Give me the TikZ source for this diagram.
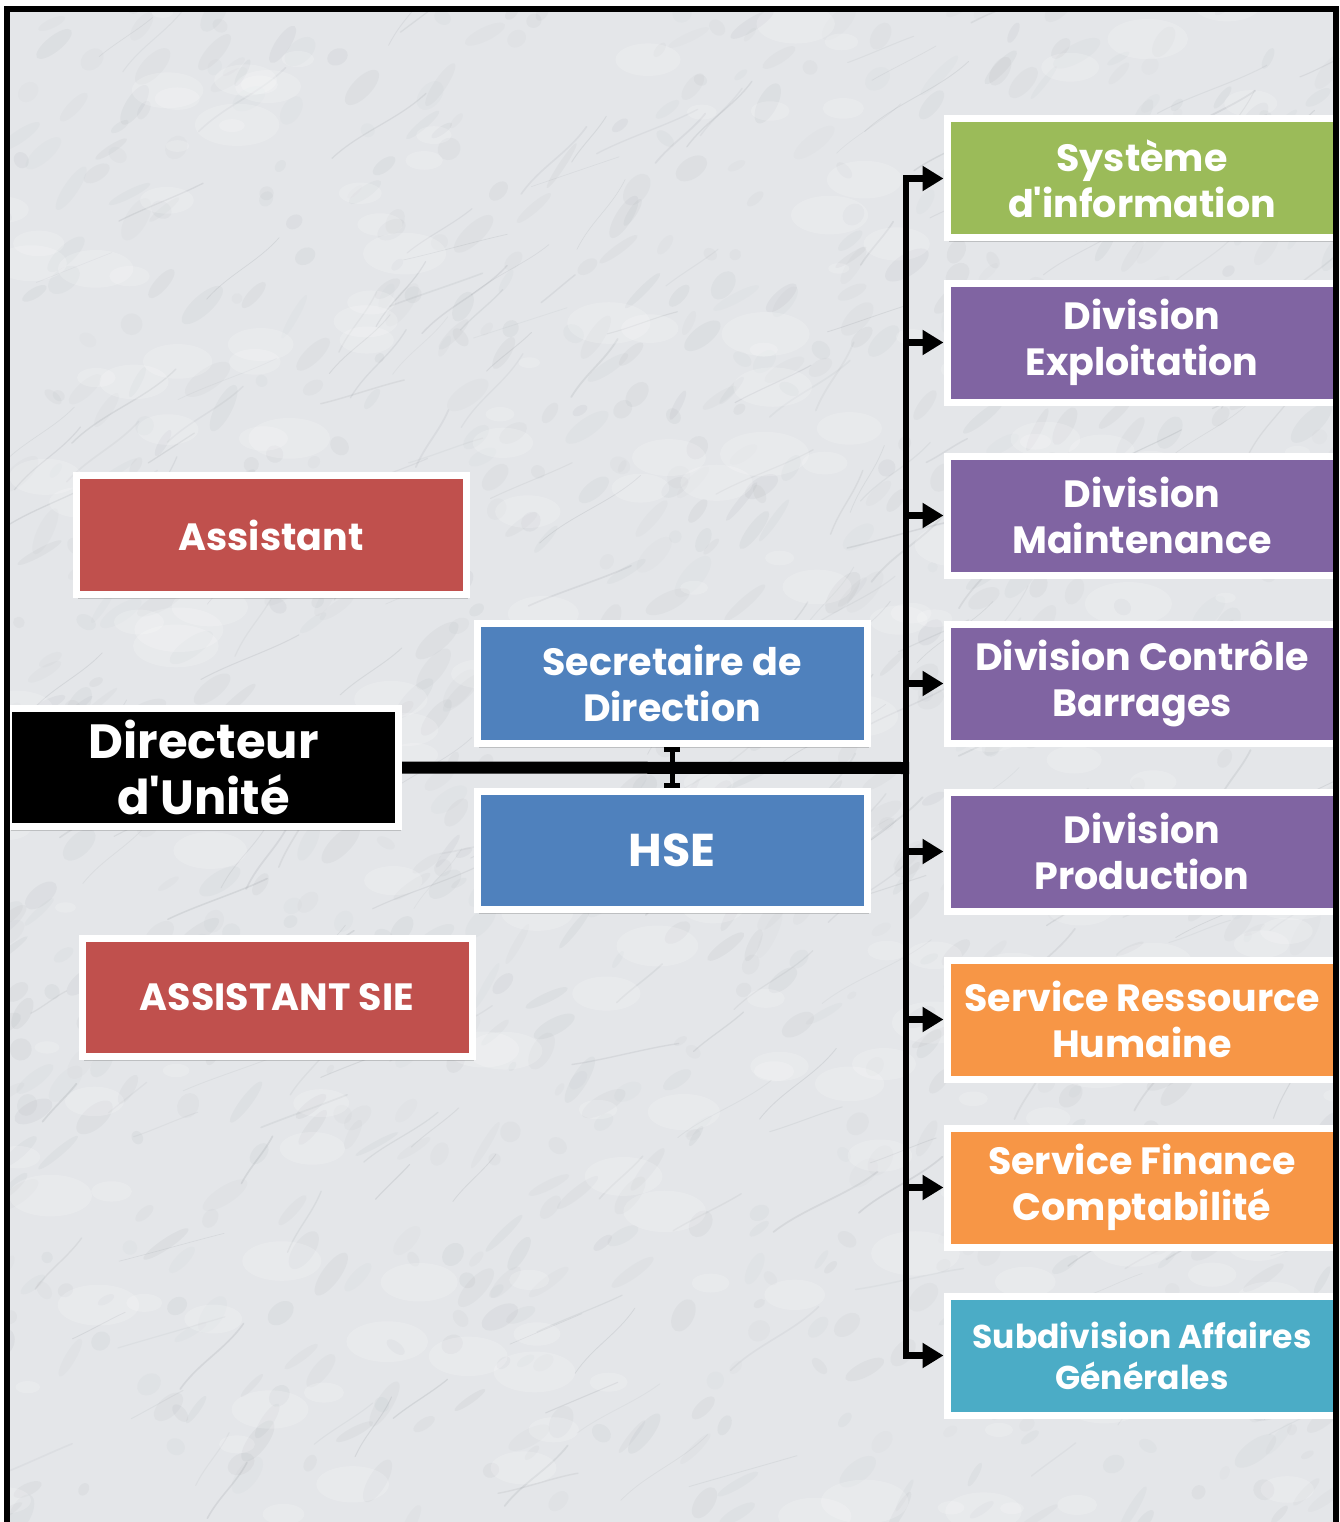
\documentclass[tikz,border=0pt]{standalone}
\usepackage{fontspec}
\newfontfamily\pop{Poppins}
\usetikzlibrary{arrows.meta,shadows}
\definecolor{marble}{HTML}{E4E6E9}
\definecolor{vein}{HTML}{8E9398}
\definecolor{cgreen}{HTML}{9BBB59}
\definecolor{cpurple}{HTML}{8064A2}
\definecolor{corange}{HTML}{F79646}
\definecolor{cteal}{HTML}{4BACC6}
\definecolor{cred}{HTML}{C0504D}
\definecolor{cblue}{HTML}{4F81BD}
\begin{document}
\begin{tikzpicture}[x=1pt,y=-1pt,
  box/.style={draw=white, line width=7pt, minimum width=390pt, minimum height=119pt,
    inner sep=0pt, align=center, text=white, font=\pop\bfseries\fontsize{38}{46}\selectfont,
    drop shadow={shadow xshift=2pt, shadow yshift=-4pt, opacity=0.25, fill=black!70}},
  conn/.style={line width=6.5pt, line join=miter, -{Triangle[length=21pt,width=24pt]}},
]
\useasboundingbox (0,0) rectangle (1339,1522);
% background
\fill[marble] (7,9) rectangle (1339,1522);
\begin{scope}
\clip (7,9) rectangle (1339,1522);
\pgfmathsetseed{11}
\foreach \i in {1,...,900}{
  \pgfmathsetmacro{\xa}{rnd*1340}
  \pgfmathsetmacro{\ya}{rnd*1522}
  \pgfmathsetmacro{\ra}{5+rnd*22}
  \pgfmathsetmacro{\rb}{3+rnd*8}
  \pgfmathsetmacro{\op}{0.03+rnd*0.06}
  \fill[vein, opacity=\op, rotate around={25+rnd*40:(\xa,\ya)}] (\xa,\ya) ellipse [x radius=\ra, y radius=\rb];
}
\foreach \i in {1,...,260}{
  \pgfmathsetmacro{\xa}{rnd*1340}
  \pgfmathsetmacro{\ya}{rnd*1522}
  \pgfmathsetmacro{\dx}{30+rnd*80}
  \pgfmathsetmacro{\dy}{-20-rnd*55}
  \pgfmathsetmacro{\op}{0.08+rnd*0.12}
  \draw[vein, opacity=\op, line width=0.6pt+rnd*1.2pt, line cap=round]
    (\xa,\ya) .. controls (\xa+\dx*0.3,\ya+\dy*0.5+6) and (\xa+\dx*0.7,\ya+\dy*0.5-6) .. (\xa+\dx,\ya+\dy);
}
\foreach \i in {1,...,220}{
  \pgfmathsetmacro{\xa}{rnd*1340}
  \pgfmathsetmacro{\ya}{rnd*1522}
  \pgfmathsetmacro{\ra}{10+rnd*35}
  \fill[white, opacity=0.18] (\xa,\ya) ellipse [x radius=\ra, y radius=\ra*0.5];
}
\end{scope}
% left column
\node[box, fill=cred] (asst) at (271,535) {Assistant};
\node[box, fill=cred, minimum height=118pt] (asie) at (277,997.5) {ASSISTANT SIE};
\node[box, fill=black, font=\pop\bfseries\fontsize{48}{56}\selectfont, minimum height=118pt] (dir) at (203.5,767.5) {Directeur\\d'Unité};
% middle column
\node[box, fill=cblue, minimum height=120pt] (sec) at (672,683.5) {Secretaire de\\Direction};
\node[box, fill=cblue, minimum height=118pt, font=\pop\bfseries\fontsize{46}{52}\selectfont] (hse) at (672,850.5) {HSE};
% right column
\node[box, fill=cgreen]  (r1) at (1142,178.5) {Système\\d'information};
\node[box, fill=cpurple] (r2) at (1142,342.5) {Division\\Exploitation};
\node[box, fill=cpurple] (r3) at (1142,515.5) {Division\\Maintenance};
\node[box, fill=cpurple] (r4) at (1142,683.5) {Division Contrôle\\Barrages};
\node[box, fill=cpurple] (r5) at (1142,851.5) {Division\\Production};
\node[box, fill=corange] (r6) at (1142,1019.5) {Service Ressource\\Humaine};
\node[box, fill=corange] (r7) at (1142,1187.5) {Service Finance\\Comptabilité};
\node[box, fill=cteal, font=\pop\bfseries\fontsize{33}{41}\selectfont] (r8) at (1142,1355.5) {Subdivision Affaires\\Générales};
% connectors
\coordinate (bus) at (906,768);
\draw[line width=12pt] (dir.east) -- ([xshift=3pt]bus);
\foreach \n in {r1,r2,r3,r4,r5,r6,r7,r8}{
  \draw[conn] (bus) |- (\n.west);
}
\draw[line width=5pt, {Bar[width=16pt]}-{Bar[width=16pt]}] (sec.south) -- (hse.north);
% frame
\draw[line width=6pt, line join=miter] (7,1530) -- (7,9) -- (1336,9) -- (1336,1530);
\end{tikzpicture}
\end{document}
